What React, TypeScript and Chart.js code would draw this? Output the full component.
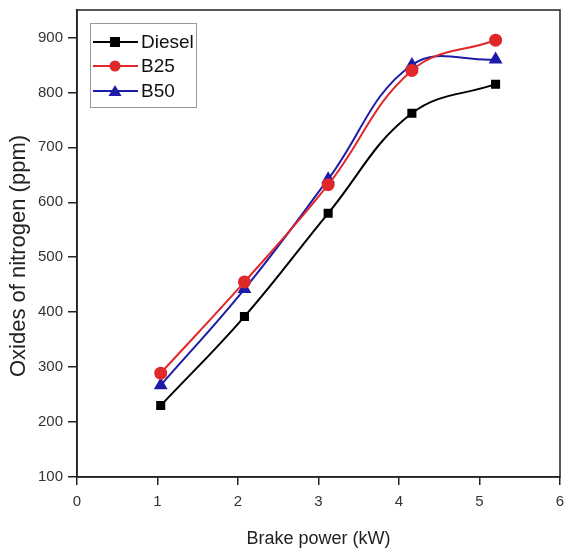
import React, { useEffect, useRef } from "react";
import { Chart, registerables } from "chart.js";

Chart.register(...registerables);

const brakePower = [1.04, 2.08, 3.12, 4.16, 5.2];
const diesel = [230, 392, 580, 762, 815];
const b25 = [289, 455, 632, 840, 895];
const b50 = [267, 442, 642, 850, 860];
const seriesNames = ["Diesel", "B25", "B50"];
const yTicks = [100, 200, 300, 400, 500, 600, 700, 800, 900];
const xTicks = [0, 1, 2, 3, 4, 5, 6];
const yTitle = "Oxides of nitrogen (ppm)";
const xTitle = "Brake power (kW)";

const FONT = "'Liberation Sans', Arial, sans-serif";

const legendPlugin = {
  id: "boxLegend",
  afterDraw(chart: any) {
    const ctx = chart.ctx;
    const left = 90, top = 23, w = 106, h = 84;
    ctx.save();
    ctx.fillStyle = "#fff";
    ctx.fillRect(left, top, w, h);
    ctx.strokeStyle = "#999";
    ctx.lineWidth = 1;
    ctx.strokeRect(left + 0.5, top + 0.5, w, h);
    const ys = [42, 66, 91];
    chart.data.datasets.forEach((ds: any, i: number) => {
      const y = ys[i];
      ctx.strokeStyle = ds.borderColor;
      ctx.lineWidth = 2;
      ctx.beginPath();
      ctx.moveTo(93, y);
      ctx.lineTo(138, y);
      ctx.stroke();
      ctx.fillStyle = ds.pointBackgroundColor;
      const cx = 115;
      if (ds.pointStyle === "rect") {
        ctx.fillRect(cx - 5, y - 5, 10, 10);
      } else if (ds.pointStyle === "circle") {
        ctx.beginPath();
        ctx.arc(cx, y, 5.5, 0, Math.PI * 2);
        ctx.fill();
      } else {
        ctx.beginPath();
        ctx.moveTo(cx, y - 6);
        ctx.lineTo(cx + 6.5, y + 5);
        ctx.lineTo(cx - 6.5, y + 5);
        ctx.closePath();
        ctx.fill();
      }
      ctx.fillStyle = "#111";
      ctx.font = `19px ${FONT}`;
      ctx.textBaseline = "middle";
      ctx.textAlign = "left";
      ctx.fillText(ds.label, 141, y + 1);
    });
    // y-axis title
    ctx.translate(19, 256);
    ctx.rotate(-Math.PI / 2);
    ctx.fillStyle = "#222";
    ctx.font = `22px ${FONT}`;
    ctx.textAlign = "center";
    ctx.textBaseline = "middle";
    ctx.fillText(yTitle, 0, 0);
    ctx.restore();
  },
};

const framePlugin = {
  id: "frame",
  afterDatasetsDraw(chart: any) {
    const { ctx, chartArea } = chart;
    ctx.save();
    ctx.strokeStyle = "#222";
    ctx.lineWidth = 1.5;
    ctx.strokeRect(chartArea.left, chartArea.top, chartArea.right - chartArea.left, chartArea.bottom - chartArea.top);
    ctx.restore();
  },
};

export default function App() {
  const ref = useRef<HTMLCanvasElement>(null);
  useEffect(() => {
    if (!ref.current) return;
    const mk = (vals: number[]) => vals.map((v, i) => ({ x: brakePower[i], y: v }));
    const chart = new Chart(ref.current, {
      type: "line",
      data: {
        datasets: [
          {
            label: seriesNames[0],
            data: mk(diesel),
            borderColor: "#000000",
            backgroundColor: "#000000",
            pointBackgroundColor: "#000000",
            pointBorderColor: "#000000",
            pointStyle: "rect",
            pointRadius: 5,
            borderWidth: 2,
            tension: 0.4,
          },
          {
            label: seriesNames[1],
            data: mk(b25),
            borderColor: "#e0282a",
            backgroundColor: "#e0282a",
            pointBackgroundColor: "#e0282a",
            pointBorderColor: "#e0282a",
            pointStyle: "circle",
            pointRadius: 5.5,
            borderWidth: 2,
            tension: 0.4,
          },
          {
            label: seriesNames[2],
            data: mk(b50),
            borderColor: "#1c1ca8",
            backgroundColor: "#1c1ca8",
            pointBackgroundColor: "#1c1ca8",
            pointBorderColor: "#1c1ca8",
            pointStyle: "triangle",
            pointRadius: 6,
            borderWidth: 2,
            tension: 0.4,
          },
        ],
      } as any,
      options: {
        animation: false,
        responsive: false,
        maintainAspectRatio: false,
        layout: { padding: { top: 10, right: 3, left: 0, bottom: 0 } },
        plugins: { legend: { display: false }, tooltip: { enabled: false } },
        scales: {
          x: {
            type: "linear",
            min: 0,
            max: 6,
            afterBuildTicks: (s: any) => {
              s.ticks = xTicks.map((v) => ({ value: v }));
            },
            afterFit: (s: any) => {
              s.height = 73;
              s.paddingLeft = 0;
              s.paddingRight = 0;
            },
            border: { display: true, color: "#222", width: 1.5 },
            grid: { drawOnChartArea: false, drawTicks: true, tickLength: 8, color: "#222", lineWidth: 1.5 },
            ticks: { color: "#333", font: { family: FONT, size: 15 }, padding: 8 },
            title: {
              display: true,
              text: xTitle,
              color: "#222",
              font: { family: FONT, size: 18 },
              padding: { top: 9, bottom: 0 },
            },
          },
          y: {
            type: "linear",
            min: 100,
            max: 950,
            afterBuildTicks: (s: any) => {
              s.ticks = yTicks.map((v) => ({ value: v }));
            },
            afterFit: (s: any) => {
              s.width = 77;
              s.paddingTop = 0;
              s.paddingBottom = 0;
            },
            border: { display: true, color: "#222", width: 1.5 },
            grid: { drawOnChartArea: false, drawTicks: true, tickLength: 9, color: "#222", lineWidth: 1.5 },
            ticks: { color: "#333", font: { family: FONT, size: 15 }, padding: 5 },
            title: { display: false },
          },
        },
      } as any,
      plugins: [framePlugin, legendPlugin],
    });
    return () => chart.destroy();
  }, []);
  return (
    <div style={{ position: "fixed", left: 0, top: 0, width: 568, height: 550, background: "#fff" }}>
      <canvas ref={ref} width={568} height={550} style={{ width: 568, height: 550 }} />
    </div>
  );
}
